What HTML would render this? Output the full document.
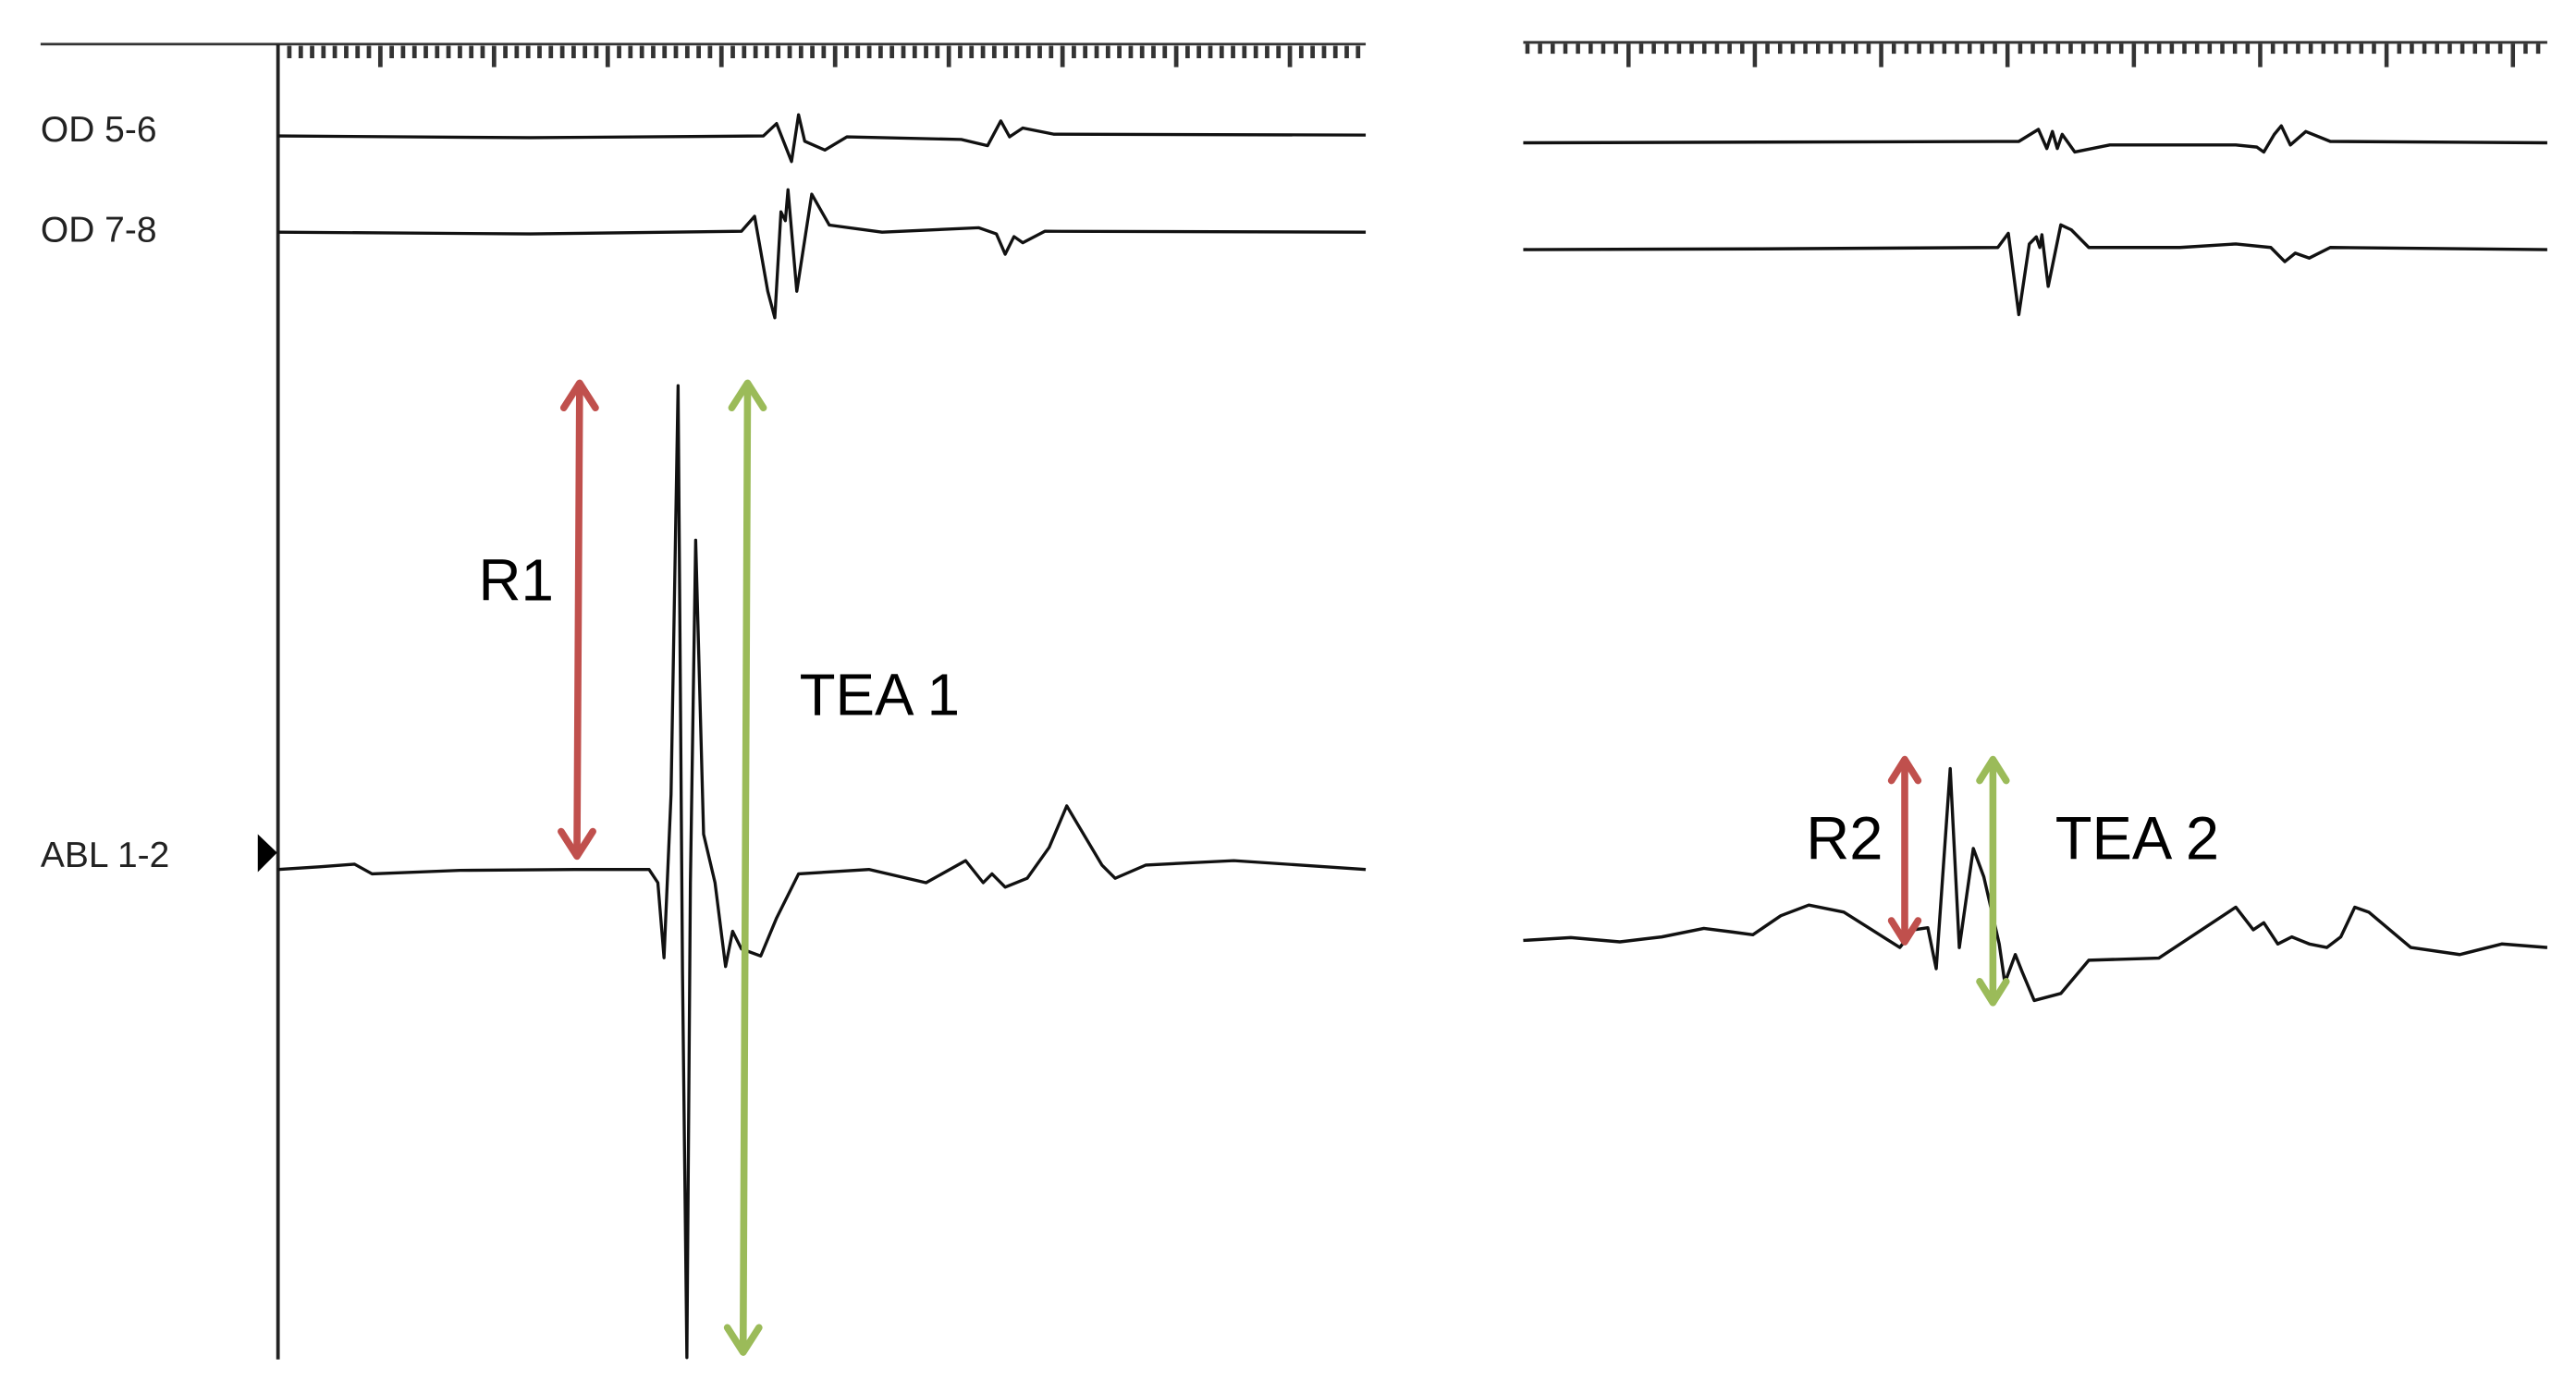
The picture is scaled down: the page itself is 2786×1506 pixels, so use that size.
<!DOCTYPE html>
<html><head><meta charset="utf-8"><style>
html,body{margin:0;padding:0;background:#fff;}
svg{display:block;}
text{font-family:"Liberation Sans",sans-serif;}
</style></head><body>
<svg width="2786" height="1506" viewBox="0 0 2786 1506" xmlns="http://www.w3.org/2000/svg">
<rect width="2786" height="1506" fill="#fff"/>
<g transform="translate(3,0) scale(0.951,0.955)">
  <line x1="43" y1="50" x2="1550" y2="50" stroke="#333" stroke-width="3"/>
  <line x1="313" y1="50" x2="313" y2="1540" stroke="#222" stroke-width="4"/>
  <path id="ticksL" stroke="#333" stroke-width="5" fill="none" d=""/>
  <text x="43" y="160" font-size="41" fill="#222">OD 5-6</text>
  <text x="43" y="274" font-size="41" fill="#222">OD 7-8</text>
  <text x="43" y="982" font-size="41" fill="#222">ABL 1-2</text>
  <polygon points="290,945 312,966 290,988" fill="#000"/>
  <polyline fill="none" stroke="#111" stroke-width="3.5" stroke-linejoin="round" points="313,154 600,156 865,154 880,140 897,183 905,130 912,160 935,170 960,155 1090,158 1120,165 1135,137 1145,155 1160,145 1195,152 1550,153"/>
  <polyline fill="none" stroke="#111" stroke-width="3.5" stroke-linejoin="round" points="313,263 600,265 840,262 855,245 870,330 878,360 885,240 890,250 893,215 903,330 920,220 940,255 1000,263 1110,258 1130,265 1140,288 1150,268 1160,275 1185,262 1550,263"/>
  <polyline fill="none" stroke="#111" stroke-width="3.5" stroke-linejoin="round" points="313,985 360,982 400,979 420,990 520,986 650,985 735,985 745,1000 752,1085 760,900 768,437 773,1100 778,1538 782,1000 788,612 797,945 810,1000 822,1095 830,1055 840,1075 862,1083 880,1040 905,990 985,985 1050,1000 1095,975 1115,1000 1125,990 1140,1005 1165,995 1190,960 1210,913 1250,980 1265,995 1300,980 1400,975 1550,985"/>
  <g stroke="#c0504d" stroke-width="8" fill="none" stroke-linecap="round" stroke-linejoin="round">
    <line x1="656" y1="438" x2="653" y2="966"/>
    <polyline points="638,462 656,434 674,462"/>
    <polyline points="635,942 653,970 671,942"/>
  </g>
  <g stroke="#9bbb59" stroke-width="8" fill="none" stroke-linecap="round" stroke-linejoin="round">
    <line x1="847" y1="438" x2="842" y2="1528"/>
    <polyline points="829,462 847,434 865,462"/>
    <polyline points="824,1504 842,1532 860,1504"/>
  </g>
  <text x="541" y="680" font-size="67" fill="#000">R1</text>
  <text x="906" y="810" font-size="67" fill="#000">TEA 1</text>
</g>
<g transform="translate(1600.5,0) scale(0.757,0.765)">
  <line x1="62" y1="60" x2="1525" y2="60" stroke="#333" stroke-width="4"/>
  <path id="ticksR" stroke="#333" stroke-width="6" fill="none" d=""/>
  <polyline fill="none" stroke="#111" stroke-width="4.5" stroke-linejoin="round" points="62,202 400,201 770,200 798,183 810,210 818,186 825,210 832,190 850,215 900,205 1080,205 1110,208 1120,215 1135,190 1145,178 1158,205 1180,186 1215,200 1525,202"/>
  <polyline fill="none" stroke="#111" stroke-width="4.5" stroke-linejoin="round" points="62,353 400,352 740,350 755,330 770,445 785,345 795,335 800,350 803,332 812,405 830,318 845,325 870,350 1000,350 1080,345 1130,350 1150,370 1165,358 1185,365 1215,350 1525,353"/>
  <polyline fill="none" stroke="#111" stroke-width="4.5" stroke-linejoin="round" points="62,1330 130,1326 200,1332 260,1325 320,1313 360,1318 390,1322 430,1295 470,1280 520,1290 560,1315 600,1340 620,1315 640,1312 652,1370 672,1087 685,1340 705,1200 720,1240 742,1335 750,1390 765,1350 775,1375 792,1415 830,1405 870,1358 970,1355 1080,1283 1105,1315 1120,1305 1140,1335 1160,1325 1185,1335 1210,1340 1230,1325 1250,1283 1270,1290 1330,1340 1400,1350 1460,1335 1525,1340"/>
  <g stroke="#c0504d" stroke-width="10" fill="none" stroke-linecap="round" stroke-linejoin="round">
    <line x1="607" y1="1078" x2="607" y2="1328"/>
    <polyline points="588,1104 607,1074 626,1104"/>
    <polyline points="588,1302 607,1332 626,1302"/>
  </g>
  <g stroke="#9bbb59" stroke-width="10" fill="none" stroke-linecap="round" stroke-linejoin="round">
    <line x1="733" y1="1078" x2="733" y2="1414"/>
    <polyline points="714,1104 733,1074 752,1104"/>
    <polyline points="714,1388 733,1418 752,1388"/>
  </g>
  <text x="466" y="1215" font-size="86" fill="#000">R2</text>
  <text x="822" y="1215" font-size="86" fill="#000">TEA 2</text>
</g>
<script>
(function(){
  var d="";
  for(var i=1;;i++){var x=313+i*12.93;if(x>1550)break;var maj=Math.abs(((x-435)/129.3)-Math.round((x-435)/129.3))<0.05;d+="M"+x.toFixed(1)+" 52V"+(maj?76:66);}
  document.getElementById("ticksL").setAttribute("d",d);
  var e="";
  for(var j=0;;j++){var x2=68+j*18.05;if(x2>1525)break;var m=Math.abs(((x2-220)/180.5)-Math.round((x2-220)/180.5))<0.05;e+="M"+x2.toFixed(1)+" 62V"+(m?95:76);}
  document.getElementById("ticksR").setAttribute("d",e);
})();
</script>
</svg>
</body></html>
